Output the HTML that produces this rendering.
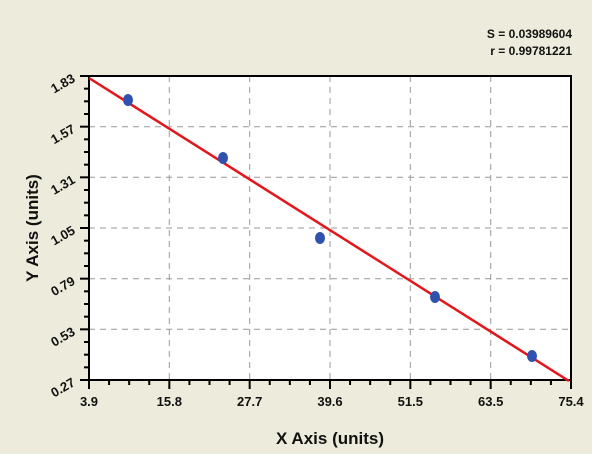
<!DOCTYPE html>
<html><head><meta charset="utf-8"><style>
body{margin:0;width:600px;height:466px;background:#fff;overflow:hidden}
svg{display:block;font-family:"Liberation Sans",Arial,sans-serif;font-weight:bold}
</style></head><body>
<svg width="600" height="466" viewBox="0 0 600 466">
<rect x="0" y="0" width="592" height="454" fill="#ecebdc"/>
<rect x="89" y="76" width="482" height="304" fill="#fff"/>
<g stroke="#999" stroke-dasharray="6,5" stroke-width="1">
<line x1="169.3" y1="76" x2="169.3" y2="380"/><line x1="249.7" y1="76" x2="249.7" y2="380"/>
<line x1="330" y1="76" x2="330" y2="380"/><line x1="410.3" y1="76" x2="410.3" y2="380"/>
<line x1="490.7" y1="76" x2="490.7" y2="380"/>
<line x1="89" y1="126.7" x2="571" y2="126.7"/><line x1="89" y1="177.3" x2="571" y2="177.3"/>
<line x1="89" y1="228" x2="571" y2="228"/><line x1="89" y1="278.7" x2="571" y2="278.7"/>
<line x1="89" y1="329.3" x2="571" y2="329.3"/>
</g>
<rect x="89" y="76" width="482" height="304" fill="none" stroke="#000" stroke-width="2"/>
<g stroke="#000" stroke-width="2" id="t"></g>
<line x1="89" y1="78" x2="569" y2="381" stroke="#e3161b" stroke-width="2.5"/>
<g fill="#2f52b0">
<ellipse cx="128" cy="100" rx="5" ry="6"/><ellipse cx="223" cy="158" rx="5" ry="6"/>
<ellipse cx="320" cy="238" rx="5" ry="6"/><ellipse cx="435" cy="297" rx="5" ry="6"/>
<ellipse cx="532" cy="356" rx="5" ry="6"/>
</g>
<g font-size="13" text-anchor="middle" fill="#111">
<text x="89" y="406">3.9</text><text x="169.3" y="406">15.8</text><text x="249.7" y="406">27.7</text>
<text x="330" y="406">39.6</text><text x="410.3" y="406">51.5</text><text x="490.7" y="406">63.5</text>
<text x="571" y="406">75.4</text>
</g>
<g font-size="13" text-anchor="end" fill="#111">
<text x="76" y="81" transform="rotate(-30 76 81)">1.83</text>
<text x="76" y="131.7" transform="rotate(-30 76 131.7)">1.57</text>
<text x="76" y="182.3" transform="rotate(-30 76 182.3)">1.31</text>
<text x="76" y="233" transform="rotate(-30 76 233)">1.05</text>
<text x="76" y="283.7" transform="rotate(-30 76 283.7)">0.79</text>
<text x="76" y="334.3" transform="rotate(-30 76 334.3)">0.53</text>
<text x="76" y="385" transform="rotate(-30 76 385)">0.27</text>
</g>
<text x="330" y="444" font-size="17" text-anchor="middle" fill="#111">X Axis (units)</text>
<text x="38" y="228" font-size="17" text-anchor="middle" fill="#111" transform="rotate(-90 38 228)">Y Axis (units)</text>
<text x="572" y="38" font-size="12" text-anchor="end" fill="#111">S = 0.03989604</text>
<text x="572" y="55" font-size="12" text-anchor="end" fill="#111">r = 0.99781221</text>
</svg>
<script>
var g=document.getElementById('t'),s='';
for(var i=0;i<=24;i++){var x=89+i*482/24,L=i%4==0?9:5;s+='<line x1="'+x+'" y1="380" x2="'+x+'" y2="'+(380+L)+'"/>';}
for(var i=0;i<=24;i++){var y=76+i*304/24,L=i%4==0?9:5;s+='<line x1="'+(89-L)+'" y1="'+y+'" x2="89" y2="'+y+'"/>';}
g.innerHTML=s;
</script>
</body></html>
